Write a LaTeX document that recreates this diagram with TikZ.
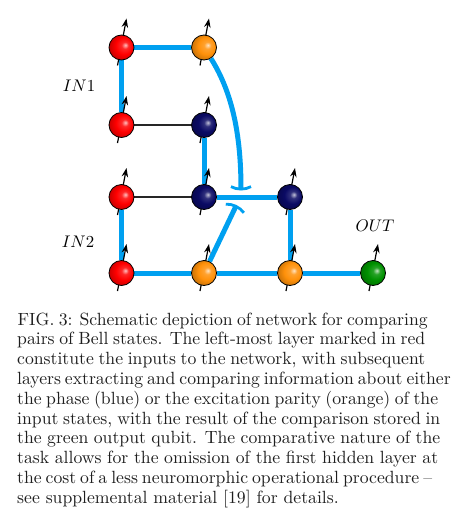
\documentclass[tikz,border=0pt]{standalone}
\usetikzlibrary{arrows.meta}
\pgfdeclarelayer{bg}
\pgfsetlayers{bg,main}
\definecolor{netblue}{RGB}{0,160,240}
\definecolor{qorange}{RGB}{255,145,10}
\definecolor{qblue}{RGB}{10,10,100}
\definecolor{qgreen}{RGB}{0,145,0}
\definecolor{qred}{RGB}{255,0,0}
\definecolor{captext}{RGB}{30,30,30}
\colorlet{qc}{red}
\pgfdeclareradialshading[qc]{qball}{\pgfqpoint{8bp}{5bp}}{%
  color(0bp)=(qc!25!white); color(7bp)=(qc!85!white); color(17bp)=(qc);
  color(28bp)=(qc!80!black); color(50bp)=(qc!50!black)}
\newcommand{\capsc}[1]{\scalebox{1.768}{\fontsize{10}{12}\selectfont #1}}
\newcommand{\labsc}[1]{\scalebox{1.68}{\fontsize{10}{12}\selectfont #1}}
\begin{document}
\begin{tikzpicture}[x=1pt,y=-1pt,
  qubit/.style={circle, draw=black, line width=0.8pt, minimum size=25pt, inner sep=0pt,
    /utils/exec={\colorlet{qc}{#1}}, shading=qball},
  link/.style={line width=5pt, draw=netblue},
  thinlink/.style={line width=1.1pt, draw=black!85},
  spin/.style={line width=1.2pt, -{Stealth[length=9pt,width=6.5pt]}},
  teecap/.style={-{Arc Barb[width=34pt,length=12pt,arc=80,line width=2.8pt]}},
  lab/.style={inner sep=0pt},
  capline/.style={anchor=base west, inner sep=0pt, text=captext}
]
\useasboundingbox (0,0) rectangle (454,527);

% qubits
\node[qubit=qred]    (r1) at (121.5,47.5) {};
\node[qubit=qorange] (o1) at (204,47.5) {};
\node[qubit=qred]    (r2) at (121.5,125) {};
\node[qubit=qblue]   (b2) at (204,125) {};
\node[qubit=qred]    (r3) at (121.5,197) {};
\node[qubit=qblue]   (b3) at (204,197) {};
\node[qubit=qblue]   (b4) at (290,197) {};
\node[qubit=qred]    (r4) at (121.5,273) {};
\node[qubit=qorange] (o4) at (204,273) {};
\node[qubit=qorange] (o5) at (290,273) {};
\node[qubit=qgreen]  (g)  at (373,273) {};

\coordinate (capA) at (241,190.5);
\coordinate (capB) at (236.5,205);

\begin{pgfonlayer}{bg}
  \draw[link] (r1) -- (o1);
  \draw[link] (r1) -- (r2);
  \draw[thinlink] (r2) -- (b2);
  \draw[link] (b2) -- (b3);
  \draw[thinlink] (r3) -- (b3);
  \draw[link] (b3) -- (b4);
  \draw[link] (r3) -- (r4);
  \draw[link] (r4) -- (o4);
  \draw[link] (o4) -- (o5);
  \draw[link] (o5) -- (g);
  \draw[link] (b4) -- (o5);
  \draw[link, teecap] (o1) .. controls (234,95) and (241,140) .. (capA);
  \draw[link, teecap] (o4) -- (capB);
  \foreach \q in {r1,o1,r2,b2,r3,b3,b4,r4,o4,o5,g}
    \draw[spin] ([shift={(-4,18)}]\q.center) -- ([shift={(5,-29)}]\q.center);
\end{pgfonlayer}

% labels
\node[lab] (in1) at (79,86) {\labsc{$IN1$}};
\node[lab] (in2) at (78,242) {\labsc{$IN2$}};
\node[lab] (out) at (375,226) {\labsc{$OUT$}};

% caption
\node[capline] (c1)  at (17.5,325) {\capsc{\makebox[231.9pt][s]{FIG. 3: Schematic depiction of network for comparing}}};
\node[capline] (c2)  at (17,344.8) {\capsc{\makebox[230.8pt][s]{pairs of Bell states. The left-most layer marked in red}}};
\node[capline] (c3)  at (17,364.6) {\capsc{\makebox[230.8pt][s]{constitute the inputs to the network, with subsequent}}};
\node[capline] (c4)  at (17,384.4) {\capsc{\makebox[239.3pt][s]{layers extracting and comparing information about either}}};
\node[capline] (c5)  at (17,404.2) {\capsc{\makebox[238.1pt][s]{the phase (blue) or the excitation parity (orange) of the}}};
\node[capline] (c6)  at (17,424.0) {\capsc{\makebox[239.3pt][s]{input states, with the result of the comparison stored in}}};
\node[capline] (c7)  at (17,443.8) {\capsc{\makebox[239.3pt][s]{the green output qubit. The comparative nature of the}}};
\node[capline] (c8)  at (17,463.6) {\capsc{\makebox[238.1pt][s]{task allows for the omission of the first hidden layer at}}};
\node[capline] (c9)  at (17,483.4) {\capsc{\makebox[234.7pt][s]{the cost of a less neuromorphic operational procedure --}}};
\node[capline] (c10) at (17,503.2) {\capsc{see supplemental material [19] for details.}};
\end{tikzpicture}
\end{document}
